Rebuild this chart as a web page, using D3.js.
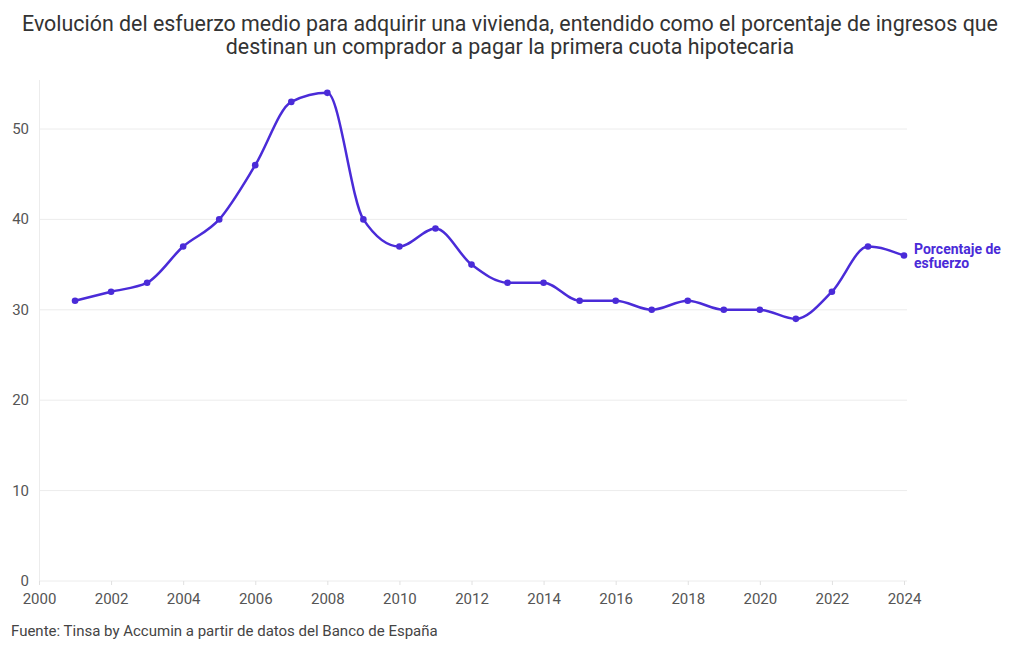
<!DOCTYPE html>
<html><head><meta charset="utf-8">
<script src="https://cdn.jsdelivr.net/npm/d3@7"></script>
<style>
body{margin:0;background:#fff;}
svg{display:block;font-family:Roboto, "Noto Sans", sans-serif;}
</style></head>
<body><svg id="c" width="1020" height="650"></svg>
<script>
const years = [2001,2002,2003,2004,2005,2006,2007,2008,2009,2010,2011,2012,2013,2014,2015,2016,2017,2018,2019,2020,2021,2022,2023,2024];
const esfuerzo = [31,32,33,37,40,46,53,54,40,37,39,35,33,33,31,31,30,31,30,30,29,32,37,36];
const xTicks = [2000,2002,2004,2006,2008,2010,2012,2014,2016,2018,2020,2022,2024];
const yTicks = [0,10,20,30,40,50];
const titleLines = ["Evolución del esfuerzo medio para adquirir una vivienda, entendido como el porcentaje de ingresos que","destinan un comprador a pagar la primera cuota hipotecaria"];
const seriesName = ["Porcentaje de","esfuerzo"];
const source = "Fuente: Tinsa by Accumin a partir de datos del Banco de España";

const svg = d3.select("#c");
const color = "#4a2bd8";
const x = d3.scaleLinear().domain([2000,2024]).range([39,904]);
const y = d3.scaleLinear().domain([0,50]).range([581,129]);

// title
svg.append("text").attr("x",510).attr("y",31).attr("text-anchor","middle")
  .attr("font-size",21.4).attr("fill","#333")
  .selectAll("tspan").data(titleLines).join("tspan")
  .attr("x",510).attr("dy",(d,i)=>i?23:0).text(d=>d);

// grid
svg.append("g").selectAll("line").data(yTicks).join("line")
  .attr("x1",39).attr("x2",907).attr("y1",d=>y(d)).attr("y2",d=>y(d))
  .attr("stroke","#ececec").attr("stroke-width",1);
svg.append("line").attr("x1",39.5).attr("x2",39.5).attr("y1",80).attr("y2",581)
  .attr("stroke","#ececec");

// y labels
svg.append("g").selectAll("text").data(yTicks).join("text")
  .attr("x",29).attr("y",d=>y(d)+5).attr("text-anchor","end")
  .attr("font-size",15).attr("fill","#555").text(d=>d);

// x axis
const xa = svg.append("g").attr("transform","translate(0,581)")
  .call(d3.axisBottom(x).tickValues(xTicks).tickFormat(d3.format("d")).tickSize(4).tickPadding(8));
xa.select(".domain").remove();
xa.selectAll(".tick line").attr("stroke","#e0e0e0");
xa.selectAll(".tick text").attr("font-size",15).attr("fill","#555").attr("font-family","Roboto, sans-serif");

// line
const data = years.map((d,i)=>({year:d,v:esfuerzo[i]}));
svg.append("path").datum(data)
  .attr("d",d3.line().x(d=>x(d.year)).y(d=>y(d.v)).curve(d3.curveMonotoneX))
  .attr("fill","none").attr("stroke",color).attr("stroke-width",2.5);
svg.append("g").selectAll("circle").data(data).join("circle")
  .attr("cx",d=>x(d.year)).attr("cy",d=>y(d.v)).attr("r",3.3).attr("fill",color);

// series label
const last = data[data.length-1];
svg.append("text").attr("x",914).attr("y",y(last.v)-2)
  .attr("font-size",14).attr("font-weight","bold").attr("fill",color)
  .selectAll("tspan").data(seriesName).join("tspan")
  .attr("x",914).attr("dy",(d,i)=>i?14:0).text(d=>d);

// source
svg.append("text").attr("x",11).attr("y",636).attr("font-size",15).attr("fill","#444").text(source);
</script></body></html>
